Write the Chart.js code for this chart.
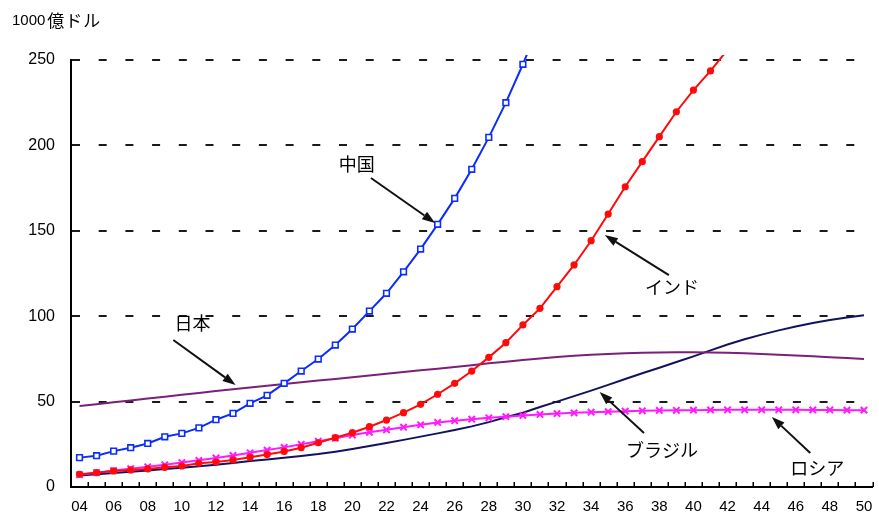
<!DOCTYPE html>
<html>
<head>
<meta charset="utf-8">
<script src="https://cdn.jsdelivr.net/npm/chart.js@4"></script>
<style>
  html, body { margin: 0; padding: 0; background: #fff; }
  #wrap { width: 879px; height: 520px; }
</style>
</head>
<body>
<div id="wrap"><canvas id="c" width="879" height="520"></canvas></div>
<script>
// GDP projection, unit: 1000億ドル
const yearLabels = ['04','05','06','07','08','09','10','11','12','13','14','15','16','17','18','19',
  '20','21','22','23','24','25','26','27','28','29','30','31','32','33','34','35','36','37','38','39',
  '40','41','42','43','44','45','46','47','48','49','50'];

const china = [17.2, 18.3, 21.0, 23.0, 25.5, 29.4, 31.4, 34.6, 39.4, 43.1, 49.0, 53.7, 60.7, 67.9,
  74.9, 83.1, 92.5, 103.0, 113.4, 126.0, 139.3, 153.8, 169.0, 186.0, 204.7, 225.0, 247.5, 272.0];

const india = [7.4, 8.4, 9.4, 10.0, 10.6, 11.5, 12.3, 13.9, 14.6, 15.8, 17.4, 19.0, 20.8, 23.0,
  25.9, 28.9, 31.8, 35.3, 39.2, 43.5, 48.4, 54.3, 60.7, 67.9, 75.9, 84.5, 94.9, 104.6, 117.3,
  130.0, 144.2, 159.8, 175.8, 190.5, 205.1, 219.7, 232.4, 243.6, 256.0];

const japan = [47.4, 48.5, 49.6, 50.7, 51.8, 52.9, 54.0, 55.1, 56.2, 57.2, 58.3, 59.3, 60.3, 61.3,
  62.3, 63.3, 64.3, 65.3, 66.3, 67.3, 68.3, 69.3, 70.3, 71.3, 72.4, 73.4, 74.4, 75.3, 76.1, 76.8,
  77.4, 77.9, 78.3, 78.6, 78.8, 78.9, 78.9, 78.8, 78.6, 78.3, 77.9, 77.5, 77.0, 76.5, 76.0, 75.5, 75.0];

const brazil = [6.8, 7.5, 8.2, 8.9, 9.7, 10.5, 11.3, 12.1, 13.0, 14.0, 15.2, 16.1, 17.1, 18.2, 19.3,
  20.7, 22.3, 24.0, 25.8, 27.6, 29.5, 31.4, 33.4, 35.5, 38.0, 40.8, 43.5, 46.8, 50.0, 53.2, 56.4,
  59.8, 63.2, 66.6, 69.8, 73.2, 76.5, 80.0, 83.4, 86.5, 89.2, 91.7, 94.0, 96.0, 97.8, 99.3, 100.5];

const russia = [7.2, 8.4, 9.6, 10.7, 11.8, 13.0, 14.3, 15.6, 17.0, 18.5, 20.0, 21.6, 23.2, 25.0, 26.8,
  28.6, 30.4, 32.0, 33.5, 35.0, 36.4, 37.8, 38.8, 39.7, 40.5, 41.2, 41.9, 42.5, 43.0, 43.4, 43.8,
  44.1, 44.4, 44.6, 44.8, 44.9, 45.0, 45.1, 45.2, 45.2, 45.2, 45.2, 45.2, 45.1, 45.1, 45.0, 45.0];

const yMin = 0, yMax = 250, yStep = 50;
const unitNumber = '1000';
const unitWord = '億ドル';

// Callout labels with arrows, placed in data units (category index, value)
const callouts = [
  { text: '中国',     at: [16.26, 189.1], from: [17.09, 180.9], to: [20.85, 154.6] },
  { text: '日本',     at: [6.62, 96.0],   from: [5.5, 86.1],    to: [9.15, 59.7] },
  { text: 'インド',   at: [34.74, 117.0], from: [34.56, 124.1], to: [30.8, 147.5] },
  { text: 'ブラジル', at: [34.15, 21.7],  from: [33.1, 31.6],   to: [30.5, 55.6] },
  { text: 'ロシア',   at: [43.26, 10.8],  from: [42.85, 19.9],  to: [40.6, 41.0] }
];

const jpFont = '"Noto Sans CJK JP", "Liberation Sans", sans-serif';
Chart.defaults.font.family = '"Liberation Sans", "Noto Sans CJK JP", sans-serif';
Chart.defaults.color = '#000';

function drawArrow(ctx, x1, y1, x2, y2) {
  const ang = Math.atan2(y2 - y1, x2 - x1);
  const head = 13, half = 4.5;
  const bx = x2 - head * Math.cos(ang), by = y2 - head * Math.sin(ang);
  ctx.beginPath();
  ctx.moveTo(x1, y1);
  ctx.lineTo(bx, by);
  ctx.stroke();
  ctx.beginPath();
  ctx.moveTo(x2, y2);
  ctx.lineTo(bx + half * Math.sin(ang), by - half * Math.cos(ang));
  ctx.lineTo(bx - half * Math.sin(ang), by + half * Math.cos(ang));
  ctx.closePath();
  ctx.fill();
}

const decorations = {
  id: 'decorations',
  afterDraw(chart) {
    const { ctx, chartArea } = chart;
    const xs = chart.scales.x, ys = chart.scales.y;
    ctx.save();

    // inward tick marks on the category axis, at category boundaries
    ctx.strokeStyle = '#000';
    ctx.lineWidth = 1.5;
    for (let i = 0; i <= yearLabels.length; i++) {
      const x = Math.round(xs.getPixelForValue(i - 0.5)) + 0.25;
      ctx.beginPath();
      ctx.moveTo(x, chartArea.bottom);
      ctx.lineTo(x, chartArea.bottom - 5);
      ctx.stroke();
    }

    // unit label
    ctx.fillStyle = '#000';
    ctx.textAlign = 'left';
    ctx.textBaseline = 'middle';
    ctx.font = '15px "Liberation Sans", sans-serif';
    ctx.fillText(unitNumber, 12, 21);
    const numW = ctx.measureText(unitNumber).width;
    ctx.font = '17px ' + jpFont;
    ctx.letterSpacing = '1px';
    ctx.fillText(unitWord, 12 + numW + 2, 21);

    // callouts
    ctx.font = '18px ' + jpFont;
    ctx.letterSpacing = '0px';
    ctx.textAlign = 'center';
    ctx.strokeStyle = '#111';
    ctx.lineWidth = 2;
    callouts.forEach(c => {
      const tx = xs.getPixelForValue(c.at[0]), ty = ys.getPixelForValue(c.at[1]);
      ctx.fillStyle = '#000';
      ctx.fillText(c.text, tx, ty);
      ctx.fillStyle = '#111';
      drawArrow(ctx,
        xs.getPixelForValue(c.from[0]), ys.getPixelForValue(c.from[1]),
        xs.getPixelForValue(c.to[0]), ys.getPixelForValue(c.to[1]));
    });
    ctx.restore();
  }
};

const clipBox = { left: 10, top: 5, right: 10, bottom: 10 };

new Chart(document.getElementById('c'), {
  type: 'line',
  data: {
    labels: yearLabels,
    datasets: [
      {
        label: '中国', data: china, borderColor: '#0a2cff', borderWidth: 2,
        pointStyle: 'rect', pointRadius: 4, pointBorderWidth: 1.6,
        pointBackgroundColor: '#ffffff', pointBorderColor: '#0a2cff', clip: clipBox
      },
      {
        label: 'インド', data: india, borderColor: '#ff0a0a', borderWidth: 2,
        pointStyle: 'circle', pointRadius: 3.6, pointBorderWidth: 0,
        pointBackgroundColor: '#ff0a0a', clip: clipBox
      },
      {
        label: 'ロシア', data: russia, borderColor: '#ff1aff', borderWidth: 2,
        pointStyle: 'crossRot', pointRadius: 4.5, pointBorderWidth: 2,
        pointBorderColor: '#ff1aff', clip: clipBox
      },
      {
        label: '日本', data: japan, borderColor: '#7b1f7b', borderWidth: 2,
        pointRadius: 0, clip: clipBox
      },
      {
        label: 'ブラジル', data: brazil, borderColor: '#12125e', borderWidth: 2,
        pointRadius: 0, clip: clipBox
      }
    ]
  },
  options: {
    responsive: false,
    animation: false,
    layout: { padding: { top: 60, right: 2, left: 0, bottom: 0 } },
    plugins: { legend: { display: false }, tooltip: { enabled: false } },
    elements: { line: { tension: 0 } },
    scales: {
      x: {
        type: 'category',
        offset: true,
        grid: {
          display: true, drawOnChartArea: false, drawTicks: true, offset: true,
          tickLength: 11, tickColor: 'rgba(0,0,0,0)'
        },
        border: { display: true, color: '#000', width: 2 },
        ticks: {
          autoSkip: false, maxRotation: 0, padding: 0,
          font: { size: 15 },
          callback: (v, i) => (i % 2 === 0 ? yearLabels[i] : '')
        },
        afterFit: s => { s.height = 33; }
      },
      y: {
        min: yMin, max: yMax,
        grid: {
          drawTicks: false, lineWidth: 2,
          color: ctx => (ctx.tick && ctx.tick.value === 0 ? 'rgba(0,0,0,0)' : '#1a1a1a')
        },
        border: { display: true, color: '#000', width: 2, dash: [8, 18.7] },
        ticks: { stepSize: yStep, padding: 16, font: { size: 16 } },
        afterFit: s => { s.width = 71; }
      }
    }
  },
  plugins: [decorations]
});
</script>
</body>
</html>
